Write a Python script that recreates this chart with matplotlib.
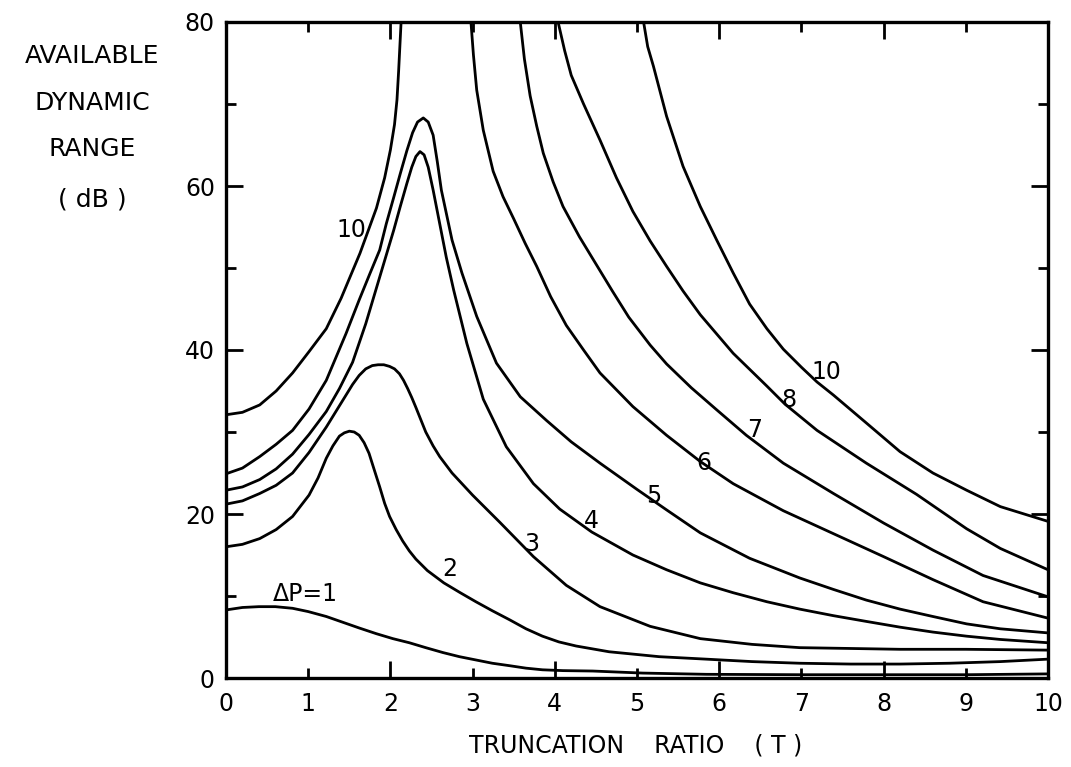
import matplotlib
matplotlib.use("Agg")
import matplotlib.pyplot as plt

# ---------------- data ----------------
t_dp1 = [0, 0.2, 0.4, 0.6, 0.81, 1.0, 1.22, 1.42, 1.62, 1.83, 2.03, 2.23, 2.43, 2.64, 2.84,
         3.04, 3.24, 3.45, 3.65, 3.85, 4.1, 4.46, 5.07, 5.84, 7.0, 8.0, 9.0, 10]
y_dp1 = [8.3, 8.6, 8.7, 8.7, 8.5, 8.1, 7.5, 6.8, 6.1, 5.4, 4.8, 4.3, 3.7, 3.1, 2.6,
         2.2, 1.8, 1.5, 1.2, 1.0, 0.9, 0.85, 0.6, 0.45, 0.4, 0.4, 0.4, 0.5]

t_dp2 = [0, 0.2, 0.41, 0.61, 0.81, 1.01, 1.12, 1.22, 1.3, 1.38, 1.44, 1.5, 1.56, 1.62, 1.68,
         1.74, 1.8, 1.87, 1.93, 1.99, 2.07, 2.15, 2.23, 2.31, 2.45, 2.65, 2.85, 3.04, 3.24,
         3.45, 3.65, 3.85, 4.05, 4.26, 4.66, 5.27, 5.84, 6.4, 6.98, 7.6, 8.2, 8.8, 9.42, 10]
y_dp2 = [16.0, 16.3, 17.0, 18.1, 19.7, 22.3, 24.4, 26.8, 28.3, 29.5, 29.9, 30.1, 30.0, 29.6, 28.7,
         27.4, 25.5, 23.3, 21.3, 19.7, 18.1, 16.7, 15.5, 14.5, 13.1, 11.6, 10.4, 9.3, 8.2,
         7.1, 6.0, 5.1, 4.4, 3.9, 3.2, 2.6, 2.3, 2.0, 1.8, 1.7, 1.7, 1.8, 2.0, 2.3]

t_dp3 = [0, 0.2, 0.41, 0.61, 0.81, 1.01, 1.22, 1.38, 1.54, 1.62, 1.7, 1.78, 1.85, 1.92, 1.99,
         2.05, 2.11, 2.16, 2.21, 2.26, 2.31, 2.37, 2.43, 2.52, 2.6, 2.75, 3.0, 3.33, 3.74,
         4.14, 4.55, 5.16, 5.77, 6.4, 6.98, 7.6, 8.2, 9.0, 10]
y_dp3 = [21.2, 21.6, 22.5, 23.5, 25.0, 27.5, 30.6, 33.2, 35.8, 36.9, 37.7, 38.1, 38.2, 38.2, 38.0,
         37.7, 37.1, 36.3, 35.3, 34.2, 33.0, 31.5, 30.0, 28.3, 27.0, 25.0, 22.3, 19.0, 14.8,
         11.3, 8.7, 6.3, 4.8, 4.1, 3.7, 3.6, 3.5, 3.5, 3.4]

t_dp4 = [0, 0.2, 0.41, 0.61, 0.81, 1.01, 1.22, 1.38, 1.54, 1.7, 1.87, 2.04, 2.12, 2.2, 2.26,
         2.31, 2.36, 2.41, 2.46, 2.52, 2.6, 2.68, 2.77, 2.93, 3.13, 3.41, 3.74, 4.06, 4.45,
         4.95, 5.36, 5.77, 6.17, 6.58, 6.98, 7.39, 7.79, 8.2, 8.6, 9.01, 9.42, 10]
y_dp4 = [22.9, 23.3, 24.2, 25.5, 27.3, 29.7, 32.5, 35.3, 38.5, 43.2, 48.9, 54.6, 57.5, 60.3, 62.3,
         63.6, 64.2, 63.8, 62.3, 59.5, 55.4, 51.3, 47.3, 40.8, 34.0, 28.2, 23.7, 20.6, 17.8,
         15.0, 13.2, 11.6, 10.4, 9.3, 8.4, 7.6, 6.9, 6.2, 5.6, 5.1, 4.7, 4.3]

t_dp5 = [0, 0.2, 0.41, 0.61, 0.81, 1.01, 1.22, 1.46, 1.62, 1.75, 1.87, 1.95, 2.04, 2.12, 2.2,
         2.27, 2.33, 2.4, 2.46, 2.52, 2.57, 2.62, 2.75, 2.87, 3.05, 3.29, 3.58, 3.9, 4.2,
         4.55, 5.0, 5.36, 5.77, 6.37, 6.98, 7.39, 7.79, 8.2, 8.6, 9.01, 9.42, 10]
y_dp5 = [24.9, 25.6, 27.0, 28.5, 30.2, 32.8, 36.3, 42.0, 46.1, 49.3, 52.2, 55.4, 58.6, 61.5, 64.3,
         66.5, 67.8, 68.3, 67.8, 66.2, 63.0, 59.5, 53.4, 49.4, 44.1, 38.4, 34.3, 31.4, 28.8,
         26.2, 23.0, 20.5, 17.7, 14.6, 12.2, 10.8, 9.5, 8.4, 7.5, 6.6, 6.0, 5.5]

t_dp6 = [2.98, 3.01, 3.05, 3.13, 3.25, 3.37, 3.5, 3.64, 3.78, 3.95, 4.14, 4.35, 4.55, 4.95,
         5.36, 5.77, 6.17, 6.78, 7.39, 8.0, 8.6, 9.21, 10]
y_dp6 = [80, 76, 71.7, 66.8, 61.8, 58.7, 56.0, 53.0, 50.2, 46.5, 43.0, 40.0, 37.2, 33.1,
         29.6, 26.4, 23.7, 20.4, 17.6, 14.8, 12.0, 9.3, 7.3]

t_dp7 = [3.58, 3.63, 3.7, 3.78, 3.86, 3.98, 4.1, 4.3, 4.5, 4.7, 4.9, 5.16, 5.36, 5.66, 5.97,
         6.33, 6.78, 7.39, 8.0, 8.6, 9.21, 10]
y_dp7 = [80, 75.5, 71, 67.3, 64, 60.5, 57.5, 53.8, 50.5, 47.2, 44.0, 40.6, 38.3, 35.4, 32.7,
         29.6, 26.2, 22.5, 18.9, 15.6, 12.5, 9.9]

t_dp8 = [4.04, 4.12, 4.2, 4.35, 4.55, 4.75, 4.95, 5.16, 5.36, 5.56, 5.77, 6.17, 6.58, 6.8,
         7.19, 7.79, 8.4, 9.01, 9.42, 10]
y_dp8 = [80, 76.5, 73.5, 70.0, 65.6, 61.0, 56.9, 53.3, 50.2, 47.2, 44.3, 39.6, 35.6, 33.4,
         30.2, 26.2, 22.4, 18.2, 15.8, 13.2]

t_dp10_left = [0, 0.2, 0.41, 0.61, 0.81, 1.01, 1.22, 1.4, 1.63, 1.83, 1.93, 2.0, 2.05, 2.08,
               2.1, 2.13]
y_dp10_left = [32.1, 32.4, 33.3, 35.0, 37.2, 39.8, 42.6, 46.3, 51.8, 57.3, 61.0, 64.4, 67.5,
               70.5, 74.0, 80]

t_dp10_right = [5.08, 5.13, 5.2, 5.36, 5.56, 5.77, 5.97, 6.17, 6.37, 6.58, 6.78, 7.0, 7.19,
                7.39, 7.79, 8.2, 8.6, 9.01, 9.42, 10]
y_dp10_right = [80, 77, 74.6, 68.5, 62.4, 57.5, 53.4, 49.4, 45.6, 42.6, 40.1, 37.9, 36.1,
                34.5, 31.1, 27.6, 25.0, 22.9, 20.9, 19.1]

curve_labels = ["\u0394P=1", "2", "3", "4", "5", "6", "7", "8", "10", "10"]
label_t = [0.96, 2.72, 3.72, 4.45, 5.2, 5.81, 6.43, 6.85, 7.3, 1.53]
label_y = [10.2, 13.3, 16.3, 19.2, 22.2, 26.2, 30.3, 33.9, 37.3, 54.6]

x_major = [0, 2, 4, 6, 8, 10]
x_minor = [1, 3, 5, 7, 9]
y_major = [0, 20, 40, 60, 80]
y_minor = [10, 30, 50, 70]

ylabel_lines = ["AVAILABLE", "DYNAMIC", "RANGE", "( dB )"]
xlabel_text = "TRUNCATION    RATIO    ( T )"

# ---------------- figure ----------------
W, H = 1071, 767
fig = plt.figure(figsize=(W / 100, H / 100), dpi=100)
ax = fig.add_axes([226 / W, (H - 678) / H, 822 / W, 656 / H])

lw = 2.0
for t, y in [(t_dp1, y_dp1), (t_dp2, y_dp2), (t_dp3, y_dp3), (t_dp4, y_dp4),
             (t_dp5, y_dp5), (t_dp6, y_dp6), (t_dp7, y_dp7), (t_dp8, y_dp8),
             (t_dp10_left, y_dp10_left), (t_dp10_right, y_dp10_right)]:
    ax.plot(t, y, color="black", lw=lw, solid_capstyle="round",
            solid_joinstyle="round")

ax.set_xlim(0, 10)
ax.set_ylim(0, 80)

for s in ax.spines.values():
    s.set_linewidth(2.4)

fs = 17
ax.set_xticks(x_major, labels=[str(v) for v in x_major])
ax.set_xticks(x_minor, labels=[str(v) for v in x_minor], minor=True)
ax.set_yticks(y_major, labels=[str(v) for v in y_major])
ax.set_yticks(y_minor, minor=True)
ax.tick_params(which="major", direction="in", length=12, width=2, labelsize=fs,
               top=True, right=True, pad=8)
ax.tick_params(which="minor", direction="in", length=7, width=2, labelsize=fs,
               top=True, right=True, pad=8)
ax.tick_params(axis="x", which="both", pad=10)

for txt, tx, ty in zip(curve_labels, label_t, label_y):
    ax.text(tx, ty, txt, fontsize=17, ha="center", va="center")

ys = [56, 103, 149, 199]
for line, yy in zip(ylabel_lines, ys):
    fig.text(92 / W, 1 - yy / H, line, fontsize=18, ha="center", va="center")

fig.text(636 / W, 1 - 746 / H, xlabel_text, fontsize=17, ha="center", va="center")

fig.savefig("out.png", dpi=100)
